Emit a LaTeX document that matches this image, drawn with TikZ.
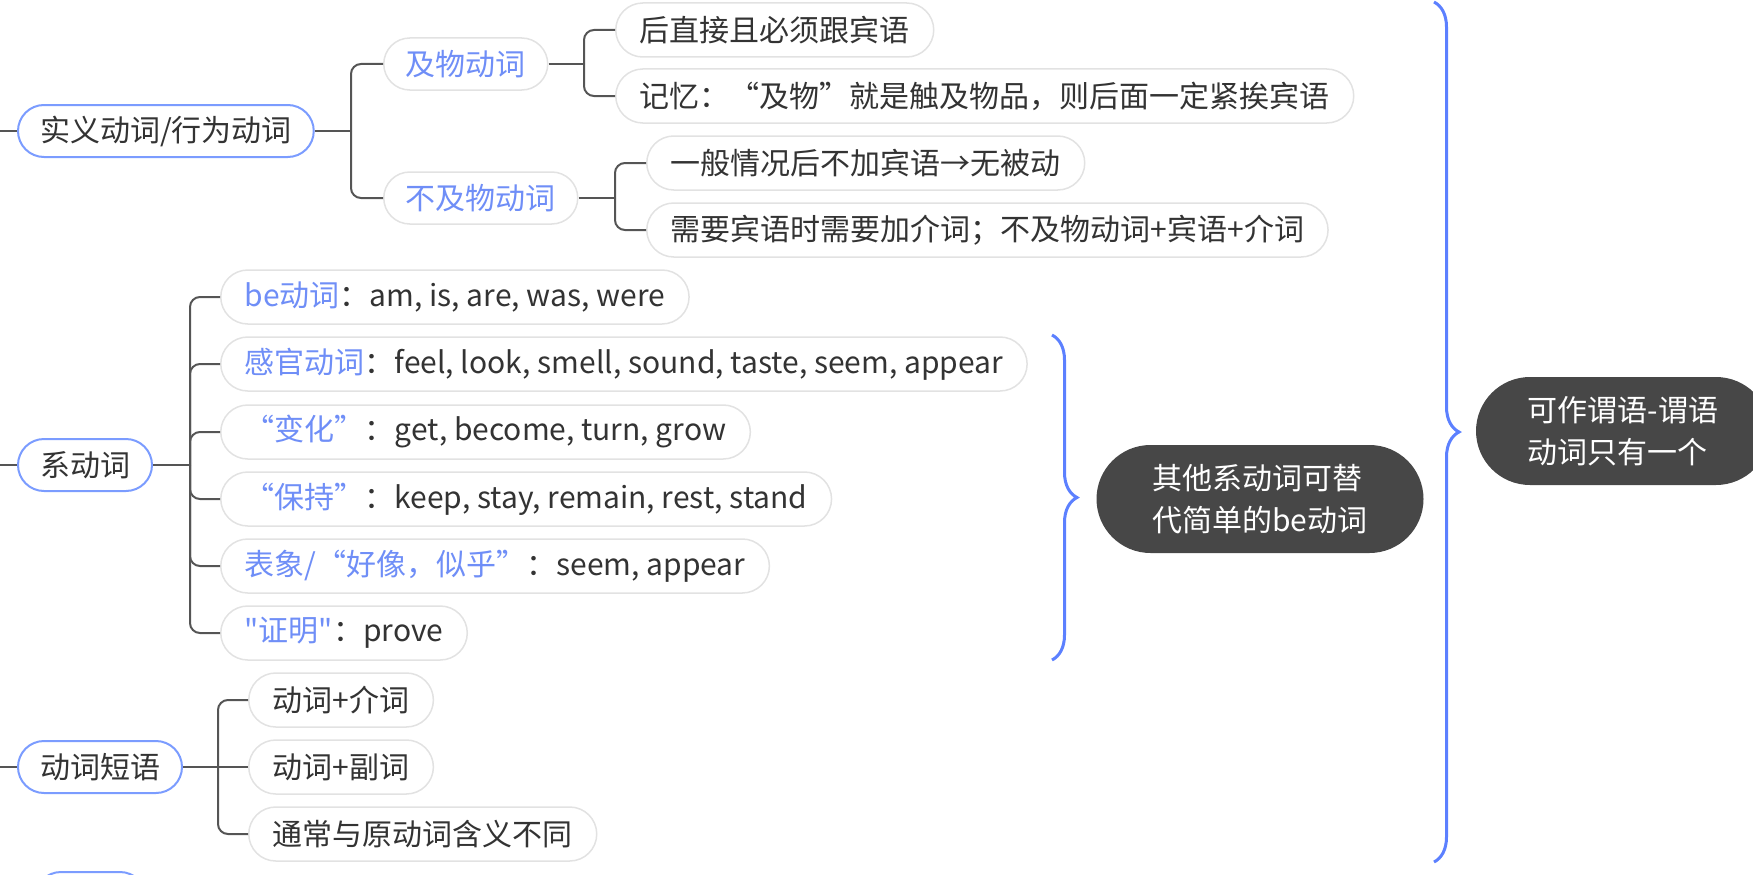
\documentclass[tikz,border=0pt]{standalone}
\usepackage{fontspec}
\setmainfont{Noto Sans CJK SC}[Ligatures=TeXOff]
\usetikzlibrary{decorations.pathreplacing}

\definecolor{lineGray}{HTML}{555555}
\definecolor{pillBlue}{HTML}{7B9CFF}
\definecolor{textBlue}{HTML}{6F8EF7}
\definecolor{leafGray}{HTML}{E2E2E2}
\definecolor{textDark}{HTML}{333333}
\definecolor{noteDark}{HTML}{474747}
\definecolor{braceBlue}{HTML}{5C80FF}
\newcommand{\kw}[1]{\textcolor{textBlue}{#1}}

\begin{document}
\begin{tikzpicture}[x=1pt, y=-1pt,
  every node/.style={font=\fontsize{30}{42}\selectfont, text=textDark},
  topic/.style={draw=pillBlue, line width=2pt, fill=white, rounded corners=26pt, minimum height=52pt, inner xsep=22pt, anchor=west},
  sub/.style={draw=leafGray, line width=1.5pt, fill=white, rounded corners=26pt, minimum height=52pt, inner xsep=22pt, anchor=west, text=textBlue},
  leaf/.style={draw=leafGray, line width=1.5pt, fill=white, rounded corners=27pt, minimum height=54pt, inner xsep=24pt, anchor=west},
  note/.style={fill=noteDark, text=white, rounded corners=54pt, minimum height=108pt, align=left, inner xsep=0pt},
  branch/.style={draw=lineGray, line width=2pt, rounded corners=10pt},
  summary/.style={draw=braceBlue, line width=3pt, decorate, decoration={brace, amplitude=25pt}}]
	\useasboundingbox (0,0) rectangle (1753,875);

	% nodes
	\node[topic] (shiyi) at (17,131) {实义动词/行为动词};
	\node[sub] (jiwu) at (383,64) {及物动词};
	\node[sub] (bujiwu) at (383,198) {不及物动词};
	\node[leaf] (jw1) at (615,30) {后直接且必须跟宾语};
	\node[leaf] (jw2) at (615,96) {记忆：“及物”就是触及物品，则后面一定紧挨宾语};
	\node[leaf] (bj1) at (646,163) {一般情况后不加宾语→无被动};
	\node[leaf] (bj2) at (646,230) {需要宾语时需要加介词；不及物动词+宾语+介词};

	\node[topic] (xi) at (17,465) {系动词};
	\node[leaf] (xi1) at (220,297) {\kw{be动词}：am, is, are, was, were};
	\node[leaf] (xi2) at (220,364) {\kw{感官动词}：feel, look, smell, sound, taste, seem, appear};
	\node[leaf] (xi3) at (220,432) {\kw{“变化”}：get, become, turn, grow};
	\node[leaf] (xi4) at (220,499) {\kw{“保持”}：keep, stay, remain, rest, stand};
	\node[leaf] (xi5) at (220,566) {\kw{表象/“好像，似乎”}：seem, appear};
	\node[leaf] (xi6) at (220,633) {\kw{"证明"}：prove};

	\node[topic] (duanyu) at (17,767) {动词短语};
	\node[leaf] (dy1) at (248,700) {动词+介词};
	\node[leaf] (dy2) at (248,767) {动词+副词};
	\node[leaf] (dy3) at (248,834) {通常与原动词含义不同};

	\node[topic, minimum width=111pt] (next) at (34,898) {};

	\node[note, minimum width=327pt] (xinote) at (1260,499) {其他系动词可替\\代简单的be动词};
	\node[note, minimum width=294pt] (allnote) at (1623,431) {可作谓语-谓语\\动词只有一个};

	% junctions
	\coordinate (shiyi-in) at (0,131);
	\coordinate (shiyi-j) at (351,131);
	\coordinate (jiwu-j) at (584,64);
	\coordinate (bujiwu-j) at (615,198);
	\coordinate (xi-in) at (0,465);
	\coordinate (xi-j) at (190,465);
	\coordinate (duanyu-in) at (0,767);
	\coordinate (duanyu-j) at (218,767);
	\coordinate (next-in) at (0,898);
	\coordinate (xibrace-top) at (1052,335);
	\coordinate (xibrace-bot) at (1052,660);
	\coordinate (allbrace-top) at (1434,2);
	\coordinate (allbrace-bot) at (1434,862);

	% edges
	\draw[branch] (shiyi-in) -- (shiyi.west);
	\draw[branch] (shiyi.east) -- (shiyi-j);
	\draw[branch] (shiyi-j) |- (jiwu.west);
	\draw[branch] (shiyi-j) |- (bujiwu.west);
	\draw[branch] (jiwu.east) -- (jiwu-j);
	\draw[branch] (jiwu-j) |- (jw1.west);
	\draw[branch] (jiwu-j) |- (jw2.west);
	\draw[branch] (bujiwu.east) -- (bujiwu-j);
	\draw[branch] (bujiwu-j) |- (bj1.west);
	\draw[branch] (bujiwu-j) |- (bj2.west);

	\draw[branch] (xi-in) -- (xi.west);
	\draw[branch] (xi.east) -- (xi-j);
	\foreach \c in {xi1,xi2,xi3,xi4,xi5,xi6}
		\draw[branch] (xi-j) |- (\c.west);

	\draw[branch] (duanyu-in) -- (duanyu.west);
	\draw[branch] (duanyu.east) -- (duanyu-j);
	\draw[branch] (duanyu-j) |- (dy1.west);
	\draw[branch] (duanyu-j) -- (dy2.west);
	\draw[branch] (duanyu-j) |- (dy3.west);
	\draw[branch] (next-in) -- (next.west);

	% braces
	\draw[summary] (xibrace-top) -- (xibrace-bot);
	\draw[summary] (allbrace-top) -- (allbrace-bot);
\end{tikzpicture}
\end{document}
